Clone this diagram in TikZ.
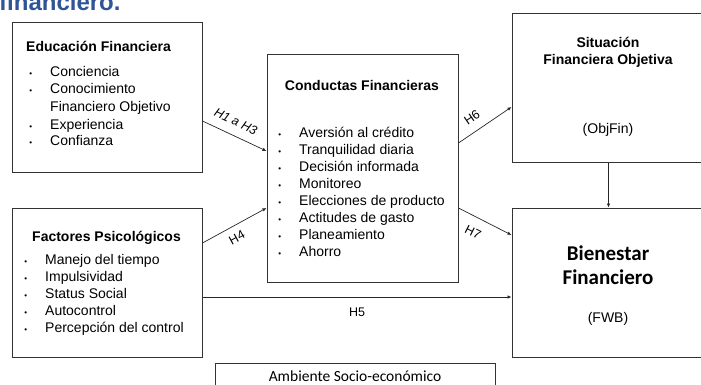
\documentclass[tikz,border=0pt]{standalone}
\usepackage{fontspec}
\setmainfont{Liberation Sans}
\newfontfamily\calibri{Carlito}
\usetikzlibrary{arrows.meta}
\definecolor{bluetitolo}{RGB}{47,85,151}
\newcommand{\punto}{\llap{{\fontsize{8}{8}\selectfont\textbullet}\hspace{18pt}}}
\tikzset{
  scatola/.style={draw=black!80, line width=1pt, inner sep=0pt},
  testo/.style={inner sep=0pt, anchor=base west, font=\fontsize{14}{17}\selectfont},
  titolo/.style={testo, font=\bfseries\fontsize{14}{17}\selectfont},
  freccia/.style={draw=black!85, line width=0.7pt, -{Latex[length=4pt,width=3.5pt]}},
  etichetta/.style={inner sep=2pt, font=\fontsize{12.5}{14}\selectfont}
}
\begin{document}
\begin{tikzpicture}[x=1pt,y=-1pt]
  \useasboundingbox (0,0) rectangle (701,385);
  %titolo tagliato
  \node[anchor=base west, inner sep=0pt, text=bluetitolo, font=\bfseries\fontsize{24}{24}\selectfont] (tit) at (-1,11) {financiero.};
  %riquadri
  \node[scatola, minimum width=190pt, minimum height=149pt] (edu) at (107,97.5) {};
  \node[scatola, minimum width=191pt, minimum height=227pt] (cond) at (362.5,168.5) {};
  \node[scatola, minimum width=193pt, minimum height=148pt] (sit) at (608.5,88) {};
  \node[scatola, minimum width=193pt, minimum height=149pt] (bien) at (608.5,282.5) {};
  \node[scatola, minimum width=190pt, minimum height=149pt] (psi) at (107,282.5) {};
  \node[scatola, minimum width=280pt, minimum height=37pt] (amb) at (355,381.5) {};
  %educazione
  \node[titolo] (edutit) at (26,52) {Educación Financiera};
  \foreach \y/\t [count=\i] in {77/Conciencia, 94/Conocimiento, 129/Experiencia, 146/Confianza}
    \node[testo] (edu\i) at (50,\y) {\punto\t};
  \node[testo] (edu5) at (50,112) {Financiero Objetivo};
  %fattori
  \node[titolo] (psitit) at (32,241) {Factores Psicológicos};
  \foreach \t [count=\i] in {Manejo del tiempo, Impulsividad, Status Social, Autocontrol, Percepción del control}
    \node[testo] (psi\i) at (45,{264+17.2*(\i-1)}) {\punto\t};
  %condotte
  \node[titolo, anchor=base] (condtit) at (362,91) {Conductas Financieras};
  \foreach \t [count=\i] in {Aversión al crédito, Tranquilidad diaria, Decisión informada, Monitoreo, Elecciones de producto, Actitudes de gasto, Planeamiento, Ahorro}
    \node[testo] (cond\i) at (299,{138+16.9*(\i-1)}) {\punto\t};
  %situazione
  \node[titolo, anchor=base] (sit1) at (608,48) {Situación};
  \node[titolo, anchor=base] (sit2) at (608,65) {Financiera Objetiva};
  \node[testo, anchor=base] (sitsig) at (608,133) {(ObjFin)};
  %benessere
  \node[anchor=base, inner sep=0pt, font=\calibri\bfseries\fontsize{21}{24}\selectfont] (bien1) at (608,260) {Bienestar};
  \node[anchor=base, inner sep=0pt, font=\calibri\bfseries\fontsize{21}{24}\selectfont] (bien2) at (608,284) {Financiero};
  \node[testo, anchor=base] (biensig) at (608,322) {(FWB)};
  %ambiente
  \node[anchor=base, inner sep=0pt, font=\calibri\fontsize{15.5}{18}\selectfont] (ambtxt) at (355,381) {Ambiente Socio-económico};
  %frecce
  \draw[freccia] ([yshift=-23.5pt]edu.east) -- node[etichetta, sloped, above=7pt, pos=0.43, font=\itshape\fontsize{12.5}{14}\selectfont] {H1 a H3} ([yshift=17.5pt]cond.west);
  \draw[freccia] ([yshift=39.5pt]psi.east) -- node[etichetta, sloped, below=5pt, pos=0.45] {H4} ([yshift=-39.5pt]cond.west);
  \draw[freccia] ([yshift=-14.5pt]psi.east) -- node[etichetta, below=9pt] {H5} ([yshift=-14.5pt]bien.west);
  \draw[freccia] ([yshift=25.5pt]cond.east) -- node[etichetta, sloped, above=7pt, pos=0.4] {H6} ([yshift=-19pt]sit.west);
  \draw[freccia] ([yshift=-39.5pt]cond.east) -- node[etichetta, sloped, below=8pt, pos=0.4] {H7} ([yshift=47.5pt]bien.west);
  \draw[freccia] (sit.south) -- (bien.north);
\end{tikzpicture}
\end{document}
